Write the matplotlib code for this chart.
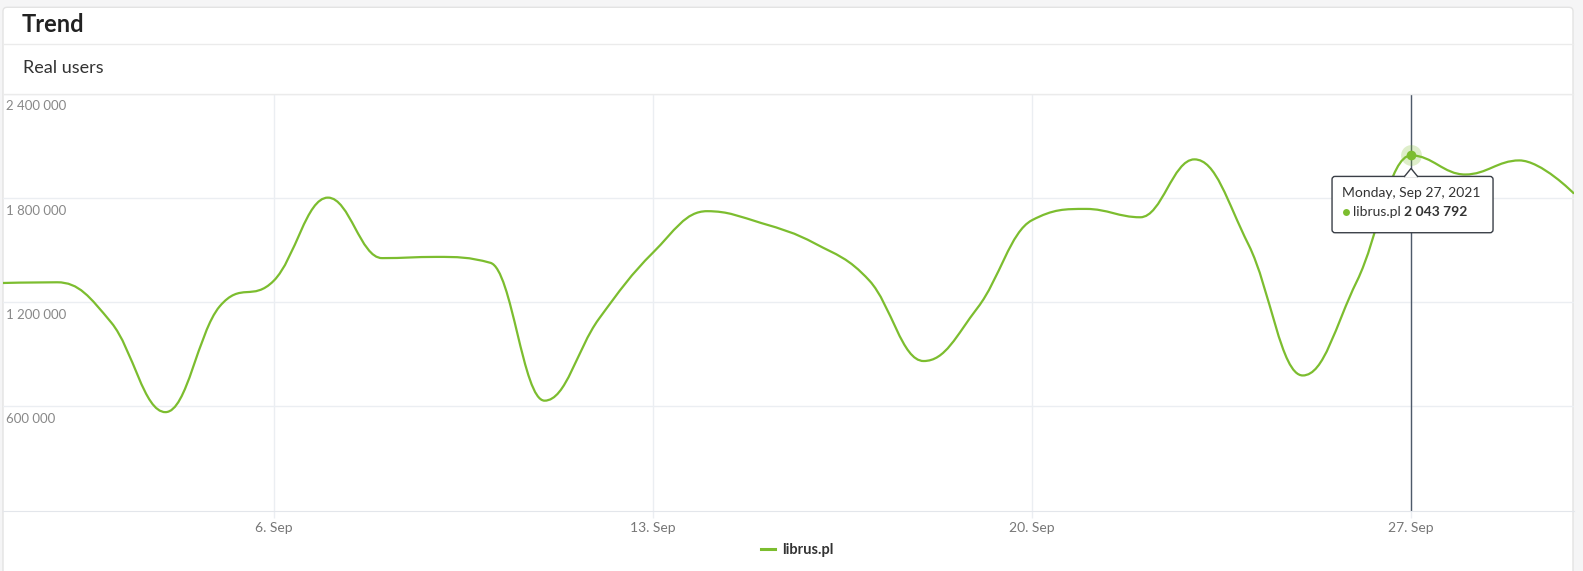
import datetime as dt

import matplotlib
matplotlib.use("Agg")
import matplotlib.dates as mdates
import matplotlib.patches as mpatches
import matplotlib.pyplot as plt
from matplotlib import transforms
from matplotlib.lines import Line2D
from matplotlib.path import Path

# data (daily real users, Sep 2021)
days = list(range(1, 31))
real_users = [1310000, 1314000, 1082000, 567000, 1175000, 1323000, 1801000, 1453000,
              1460000, 1426000, 633000, 1102000, 1484000, 1723000, 1655000, 1536000,
              1323000, 861000, 1169000, 1671000, 1736000, 1688000, 2021000, 1530000,
              778000, 1320000, 2043792, 1934000, 2015000, 1827000]
series_name = "librus.pl"
y_ticks = [600000, 1200000, 1800000, 2400000]
x_tick_days = [6, 13, 20, 27]
x_tick_labels = ["6. Sep", "13. Sep", "20. Sep", "27. Sep"]
hover_day = 27
hover_label = "Monday, Sep 27, 2021"

GREEN = "#7cbd2f"
GRID = "#ebeef2"
W, H = 1583, 571


def spline_path(xs, ys, smoothing=1.5):
    # same control point rule as a highcharts spline
    denom = smoothing + 1
    n = len(xs)
    ctrl = []
    for i in range(n):
        x, y = xs[i], ys[i]
        if 0 < i < n - 1:
            lx, ly = xs[i - 1], ys[i - 1]
            nx, ny = xs[i + 1], ys[i + 1]
            lcx = (smoothing * x + lx) / denom
            lcy = (smoothing * y + ly) / denom
            rcx = (smoothing * x + nx) / denom
            rcy = (smoothing * y + ny) / denom
            if rcx != lcx:
                corr = ((rcy - lcy) * (rcx - x)) / (rcx - lcx) + y - rcy
                lcy += corr
                rcy += corr
            if lcy > ly and lcy > y:
                lcy = max(ly, y)
                rcy = 2 * y - lcy
            elif lcy < ly and lcy < y:
                lcy = min(ly, y)
                rcy = 2 * y - lcy
            if rcy > ny and rcy > y:
                rcy = max(ny, y)
                lcy = 2 * y - rcy
            elif rcy < ny and rcy < y:
                rcy = min(ny, y)
                lcy = 2 * y - rcy
            ctrl.append(((lcx, lcy), (rcx, rcy)))
        else:
            ctrl.append(((x, y), (x, y)))
    verts = [(xs[0], ys[0])]
    codes = [Path.MOVETO]
    for i in range(1, n):
        verts += [ctrl[i - 1][1], ctrl[i][0], (xs[i], ys[i])]
        codes += [Path.CURVE4] * 3
    return Path(verts, codes)


plt.rcParams['font.family'] = ['Lato', 'DejaVu Sans']

fig = plt.figure(figsize=(W / 100, H / 100), dpi=100, facecolor="#f5f5f6")
ident = transforms.IdentityTransform()

# card background with header rows
card = mpatches.FancyBboxPatch((3, -20), 1570, H - 7.3 + 20, boxstyle="round,pad=0,rounding_size=4",
                               fc="white", ec="#e3e3e3", lw=1, transform=ident, zorder=0)
fig.add_artist(card)
for yy in (44.3, 93.7):
    fig.add_artist(Line2D([3, 1573], [H - yy, H - yy], color="#ebebeb", lw=1, transform=ident))
fig.text(22 / W, 1 - 24 / H, "Trend", fontsize=17, fontweight="bold", color="#222222", va="center")
fig.text(23 / W, 1 - 68 / H, "Real users", fontsize=13, color="#333333", va="center")

left, right = 3 / W, 1573.5 / W
bottom, top = (H - 510.7) / H, (H - 93.5) / H
ax = fig.add_axes([left, bottom, right - left, top - bottom])
ax.set_facecolor("none")

xs = [mdates.date2num(dt.date(2021, 9, d)) for d in days]
ax.add_patch(mpatches.PathPatch(spline_path(xs, real_users), fc="none", ec=GREEN, lw=1.6,
                                capstyle="round", joinstyle="round", zorder=3))
ax.set_xlim(xs[0], xs[-1])
ax.set_ylim(0, 2400000)

# grid, axis
ax.set_yticks(y_ticks)
ax.tick_params(axis="y", left=False, labelleft=False)
ax.grid(axis="both", color=GRID, lw=1)
tick_x = [mdates.date2num(dt.date(2021, 9, d)) for d in x_tick_days]
ax.set_xticks(tick_x, x_tick_labels)
ax.tick_params(axis="x", length=5, width=1, color=GRID, pad=3, labelsize=10, labelcolor="#777777")
for s in ("left", "right", "top"):
    ax.spines[s].set_visible(False)
ax.spines["bottom"].set_color("#e3e6eb")

ylab_tr = transforms.offset_copy(transforms.blended_transform_factory(ax.transAxes, ax.transData),
                                 fig=fig, x=3, y=-13, units="dots")
for v in y_ticks:
    ax.text(0, v, f"{v:,}".replace(",", " "), transform=ylab_tr, ha="left", va="center",
            fontsize=9.5, color="#888888")

# hover crosshair + point
hx = mdates.date2num(dt.date(2021, 9, hover_day))
hv = real_users[days.index(hover_day)]
ax.axvline(hx, color="#4e5a6a", lw=1, zorder=2)
ax.plot(hx, hv, "o", ms=15, color=GREEN, alpha=0.25, mec="none", zorder=4)
ax.plot(hx, hv, "o", ms=7, color=GREEN, mec="none", zorder=5)

leg_handle = Line2D([], [], color=GREEN, lw=2.2)
leg = ax.legend([leg_handle], [series_name], loc="center", bbox_to_anchor=(0.5056, -0.094),
                frameon=False, handlelength=1.0, handletextpad=0.45,
                prop={"family": "Lato", "weight": "bold", "size": 10.5})
for t in leg.get_texts():
    t.set_color("#333333")

# tooltip box in pixel coords relative to the hovered point
px, py = ax.transData.transform((hx, hv))
box = mpatches.FancyBboxPatch((px - 79, py - 77.3), 161, 56.3, boxstyle="round,pad=0,rounding_size=3",
                              fc="white", ec="#3a3f47", lw=1, transform=ident, zorder=10)
fig.add_artist(box)
arrow = mpatches.Polygon([(px - 7, py - 21.6), (px, py - 13), (px + 7, py - 21.6)], closed=False,
                         fc="white", ec="#3a3f47", lw=1, transform=ident, zorder=11)
fig.add_artist(arrow)
fig.text(px - 69, py - 37.5, hover_label, transform=ident, fontsize=10, color="#333333",
         va="center", ha="left", zorder=12)
fig.add_artist(Line2D([px - 65], [py - 56.5], marker="o", ms=5, color=GREEN, mec="none",
                      transform=ident, zorder=12))
name_txt = fig.text(px - 58, py - 56.5, series_name + " ", transform=ident, fontsize=10,
                    color="#333333", va="center", ha="left", zorder=12)
# value follows the name directly, like one line of tooltip text
fig.canvas.draw()
name_end = name_txt.get_window_extent().x1
fig.text(name_end, py - 56.5, f"{hv:,}".replace(",", " "), transform=ident, fontsize=10,
         fontweight="bold", color="#333333", va="center", ha="left", zorder=12)

fig.savefig("out.png", dpi=100, facecolor=fig.get_facecolor())
